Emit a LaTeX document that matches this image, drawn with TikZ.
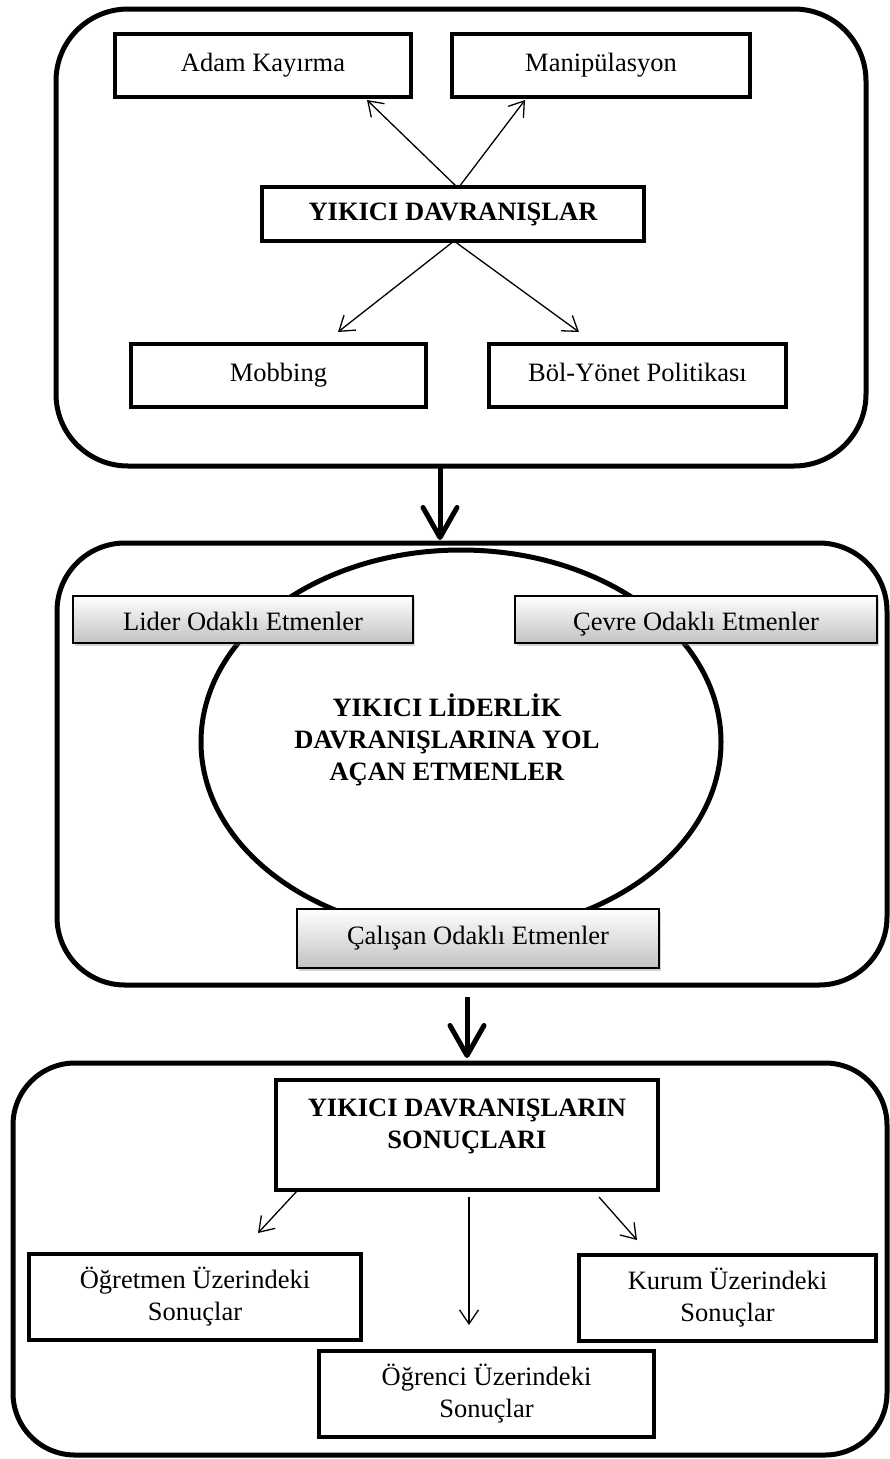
\documentclass[tikz,border=0pt]{standalone}
\usepackage{fontspec}
\setmainfont{Liberation Serif}
\usetikzlibrary{arrows.meta,shapes.geometric,shadows,calc}
\begin{document}
\begin{tikzpicture}[x=1pt,y=-1pt,
  every node/.style={outer sep=0pt, inner sep=0pt},
  txt/.style={font=\fontsize{26.5}{32}\selectfont, align=center},
  bld/.style={font=\fontsize{26.5}{32}\selectfont\bfseries, align=center},
  oneline/.style={text height=18.5pt, text depth=6pt},
  lowline/.style={text height=28pt, text depth=6pt},
  frame/.style={draw, line width=5pt, rounded corners=#1},
  nbox/.style={draw, line width=4.5pt, txt},
  shbox/.style={draw, line width=1.2pt, txt, oneline, top color=white, bottom color=black!24,
    drop shadow={shadow xshift=1.5pt, shadow yshift=-3pt, opacity=.35}},
  arr/.style={line width=1.3pt, -{Straight Barb[length=14pt,width=19pt]}},
  bigarr/.style={line width=5pt, -{Straight Barb[length=30pt,width=34pt,round]}}
]
\useasboundingbox (0,0) rectangle (890,1459);

% ---------- outer frames ----------
\node[frame=72pt, minimum width=810pt, minimum height=457pt] (box1) at (461,237.5) {};
\node[frame=68pt, minimum width=830pt, minimum height=442pt] (box2) at (472,764) {};
\node[frame=62pt, minimum width=874pt, minimum height=392pt] (box3) at (450,1259) {};

% ---------- top section ----------
\node[nbox, oneline, minimum width=296pt, minimum height=63pt] (adam) at (263,65.5) {Adam Kayırma};
\node[nbox, oneline, minimum width=298pt, minimum height=63pt] (manip) at (601,65.5) {Manipülasyon};
\node[nbox, bld, oneline, minimum width=382pt, minimum height=54pt] (yd) at (453,214) {YIKICI DAVRANIŞLAR};
\node[nbox, oneline, minimum width=295pt, minimum height=63pt] (mob) at (278.5,375.5) {Mobbing};
\node[nbox, oneline, minimum width=297pt, minimum height=63pt] (bol) at (637.5,375.5) {Böl-Yönet Politikası};

\draw[arr] ($(yd.north)+(4,0)$) -- ($(adam.south)+(104,3)$);
\draw[arr] ($(yd.north)+(6,0)$) -- ($(manip.south)+(-76,3)$);
\draw[arr] ($(yd.south)+(1,0)$) -- ($(mob.north)+(59.5,-12)$);
\draw[arr] ($(yd.south)+(1,0)$) -- ($(bol.north)+(-58.5,-12)$);

% ---------- middle section ----------
\node[ellipse, draw, line width=5pt, minimum width=520pt, minimum height=384pt] (ell) at (461,742) {};
\node[bld] (elltext) at (447,740) {YIKICI LİDERLİK\\DAVRANIŞLARINA YOL\\AÇAN ETMENLER};
\node[shbox, lowline, minimum width=340pt, minimum height=47pt] (lider) at (243,619.5) {Lider Odaklı Etmenler};
\node[shbox, lowline, minimum width=362pt, minimum height=47pt] (cevre) at (696,619.5) {Çevre Odaklı Etmenler};
\node[shbox, minimum width=362pt, minimum height=59pt] (calisan) at (478,938.5) {Çalışan Odaklı Etmenler};

% ---------- bottom section ----------
\node[nbox, bld, minimum width=382pt, minimum height=110pt] (son) at (467,1135)
  {YIKICI DAVRANIŞLARIN\\SONUÇLARI\\[-10pt]\mbox{}};
\node[nbox, minimum width=332pt, minimum height=86pt] (ogretmen) at (195,1297) {Öğretmen Üzerindeki\\Sonuçlar};
\node[nbox, minimum width=297pt, minimum height=86pt] (kurum) at (727.5,1298) {Kurum Üzerindeki\\Sonuçlar};
\node[nbox, minimum width=335pt, minimum height=86pt] (ogrenci) at (486.5,1394) {Öğrenci Üzerindeki\\Sonuçlar};

\draw[arr] ($(son.south west)+(21,1)$) -- ($(ogretmen.north)+(63,-21)$);
\draw[arr] ($(son.south)+(2,7)$) -- ($(ogrenci.north)+(-17.5,-26)$);
\draw[arr] ($(son.south)+(132,7)$) -- ($(kurum.north)+(-90.5,-15)$);

% ---------- connecting thick arrows ----------
\draw[bigarr] ($(box1.south)+(-21,0)$) -- ($(box2.north)+(-32,-3)$);
\draw[bigarr] ($(box2.south)+(-5,12)$) -- ($(box3.north)+(17,-5)$);
\end{tikzpicture}
\end{document}
